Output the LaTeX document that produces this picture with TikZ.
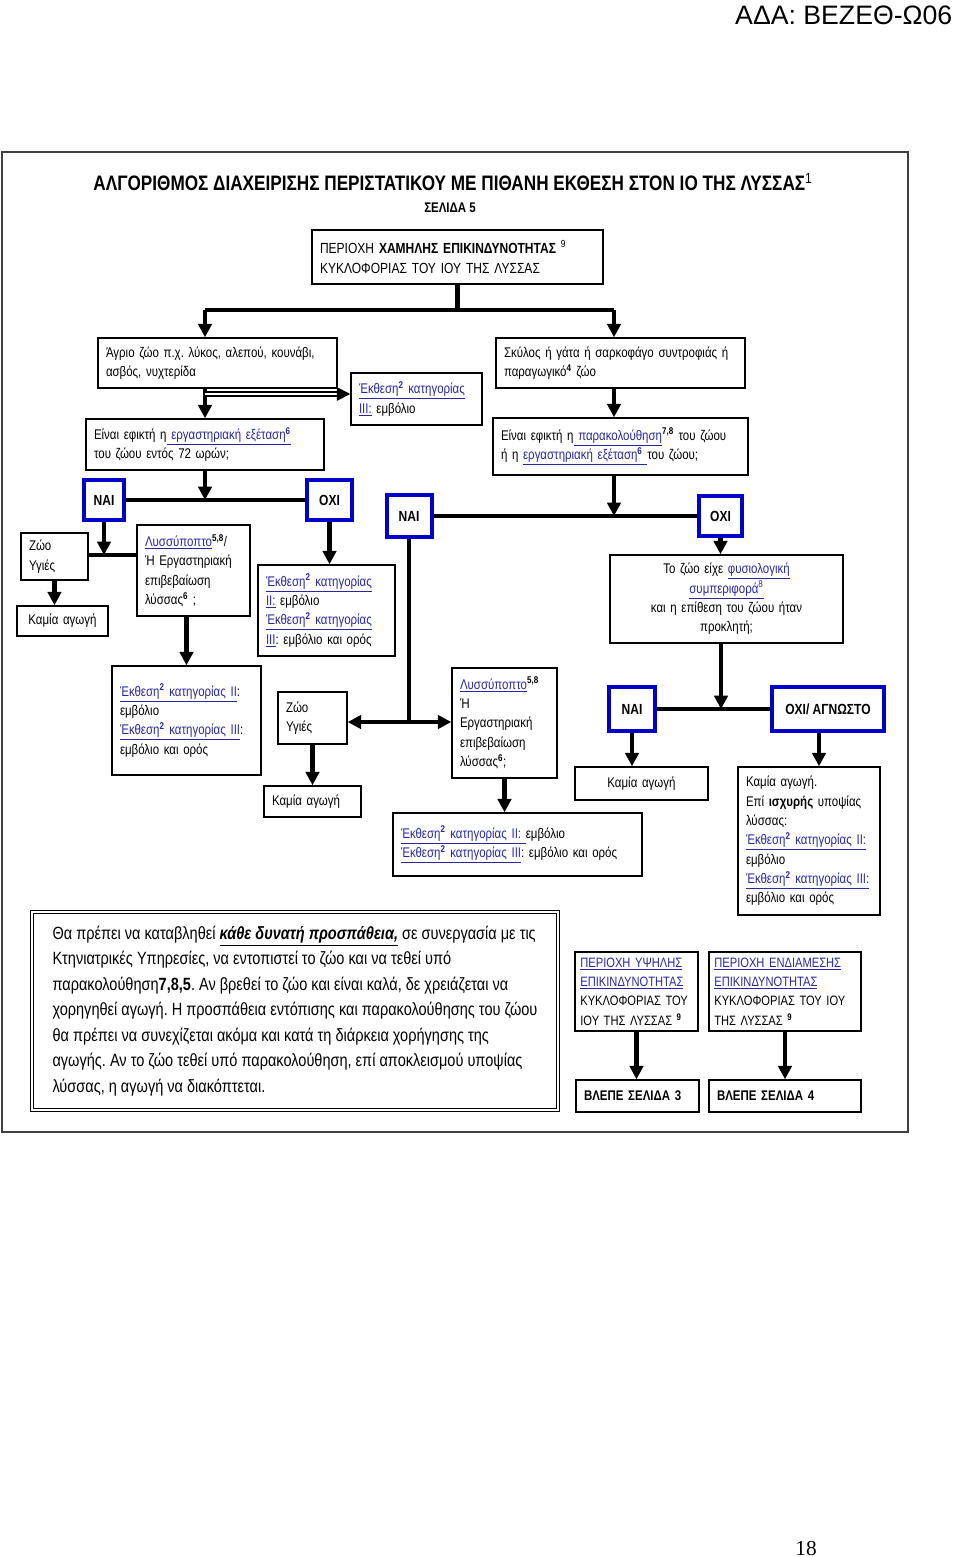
\documentclass[tikz,border=0pt]{standalone}
\usepackage{fontspec}
\usepackage{xcolor}
\usetikzlibrary{arrows.meta,positioning,calc}
\setmainfont{Liberation Sans}[FakeStretch=0.82]
\newfontfamily\hdrfont{Liberation Sans}
\newfontfamily\numfont{Liberation Serif}
\definecolor{lnkblue}{RGB}{40,40,160}
\definecolor{ansblue}{RGB}{0,0,200}
\newcommand{\lnk}[1]{\textcolor{lnkblue}{\underline{#1}}}
\newcommand{\sups}[1]{\textsuperscript{\bfseries #1}}
\frenchspacing

\begin{document}
\begin{tikzpicture}[x=0.75pt,y=-0.75pt,
  >={Triangle[width=10pt,length=10pt]},
  conn/.style={line width=3.5pt},
  dbl/.style={line width=1.3pt,double,double distance=1.6pt},
  bx/.style 2 args={draw,line width=1.1pt,minimum width=#1*0.75pt,minimum height=#2*0.75pt,
    text width=#1*0.75pt-12pt,inner xsep=6pt,inner ysep=1pt,align=left,
    font=\fontsize{10.5}{14.5}\selectfont},
  capbx/.style 2 args={bx={#1}{#2},text width=#1*0.75pt-8pt,inner xsep=4pt,
    font=\fontsize{10.2}{14.5}\selectfont},
  notebox/.style 2 args={draw,double,double distance=1.5pt,line width=0.9pt,
    minimum width=#1*0.75pt,minimum height=#2*0.75pt,align=left,
    font=\fontsize{13.3}{19.1}\selectfont},
  ans/.style 2 args={draw=ansblue,line width=3pt,minimum width=#1*0.75pt,minimum height=#2*0.75pt,
    inner sep=0pt,font=\bfseries\fontsize{11}{13}\selectfont}]
\useasboundingbox (0,0) rectangle (960,1557);
\draw[black!75,line width=2pt] (2,152) rectangle (908,1132);

\node[anchor=east,font=\hdrfont\fontsize{20}{22}\selectfont] (ada) at (957,15) {ΑΔΑ: ΒΕΖΕΘ-Ω06};
\node[font=\numfont\fontsize{16}{18}\selectfont] (pnum) at (806,1548) {18};
\node[font=\bfseries\fontsize{15.7}{18}\selectfont] (title) at (453,182) {ΑΛΓΟΡΙΘΜΟΣ ΔΙΑΧΕΙΡΙΣΗΣ ΠΕΡΙΣΤΑΤΙΚΟΥ ΜΕ ΠΙΘΑΝΗ ΕΚΘΕΣΗ ΣΤΟΝ ΙΟ ΤΗΣ ΛΥΣΣΑΣ{\mdseries\textsuperscript{1}}};
\node[font=\bfseries\fontsize{10.5}{12}\selectfont] (pg) at (450,208) {ΣΕΛΙΔΑ 5};

\node[bx={291}{54},font=\fontsize{11}{15}\selectfont] (area) at (457.5,257) {ΠΕΡΙΟΧΗ \textbf{ΧΑΜΗΛΗΣ ΕΠΙΚΙΝΔΥΝΟΤΗΤΑΣ} \textsuperscript{9}\\ΚΥΚΛΟΦΟΡΙΑΣ ΤΟΥ ΙΟΥ ΤΗΣ ΛΥΣΣΑΣ};
\node[bx={239}{50}] (wild) at (217.5,363) {Άγριο ζώο π.χ. λύκος, αλεπού, κουνάβι,\\ασβός, νυχτερίδα};
\node[bx={249}{50}] (pet) at (620.5,363) {Σκύλος ή γάτα ή σαρκοφάγο συντροφιάς ή\\παραγωγικό\sups{4} ζώο};
\node[bx={131}{52}] (cat3a) at (416.5,399) {\lnk{Έκθεση\sups{2} κατηγορίας}\\\lnk{III:} εμβόλιο};
\node[bx={238}{51}] (labwild) at (205,444.5) {Είναι εφικτή η\lnk{ εργαστηριακή εξέταση\sups{6}}\\του ζώου εντός 72 ωρών;};
\node[bx={255}{57}] (obswild) at (620.5,446.5) {Είναι εφικτή η\lnk{ παρακολούθηση}\sups{7,8} του ζώου\\ή η \lnk{εργαστηριακή εξέταση\sups{6} }του ζώου;};

\node[ans={40}{40}] (yes1) at (104,500) {ΝΑΙ};
\node[ans={45}{40}] (no1) at (329.5,500) {ΟΧΙ};
\node[ans={45}{42}] (yes2) at (409,516) {ΝΑΙ};
\node[ans={43}{40}] (no2) at (720.5,516) {ΟΧΙ};

\node[bx={67}{47}] (healthy1) at (54.5,556.5) {Ζώο\\Υγιές};
\node[bx={91}{30},align=center] (none1) at (62.5,621) {Καμία αγωγή};
\node[bx={113}{91}] (rabid1) at (193.5,570.5) {\lnk{Λυσσύποπτο}\sups{5,8}/\\Ή Εργαστηριακή\\επιβεβαίωση\\λύσσας\sups{6} ;};
\node[bx={137}{91}] (cat23a) at (326.5,610.5) {\lnk{Έκθεση\sups{2} κατηγορίας}\\\lnk{II:} εμβόλιο\\\lnk{Έκθεση\sups{2} κατηγορίας}\\\lnk{III}: εμβόλιο και ορός};
\node[bx={233}{88},align=center] (behav) at (726.5,599) {Το ζώο είχε \lnk{φυσιολογική}\\\lnk{συμπεριφορά\textsuperscript{8}}\\και η επίθεση του ζώου ήταν\\προκλητή;};

\node[bx={149}{109}] (cat23b) at (186.5,720.5) {\lnk{Έκθεση\sups{2} κατηγορίας II}:\\εμβόλιο\\\lnk{Έκθεση\sups{2} κατηγορίας III}:\\εμβόλιο και ορός};
\node[bx={69}{52}] (healthy2) at (312.5,718) {Ζώο\\Υγιές};
\node[bx={97}{31}] (none2) at (312.5,801.5) {Καμία αγωγή};
\node[bx={105}{110}] (rabid2) at (504.5,723) {\lnk{Λυσσύποπτο}\sups{5,8}\\Ή\\Εργαστηριακή\\επιβεβαίωση\\λύσσας\sups{6};};
\node[bx={249}{63}] (cat23c) at (517.5,844.5) {\lnk{Έκθεση\sups{2} κατηγορίας II: }εμβόλιο\\\lnk{Έκθεση\sups{2} κατηγορίας III}: εμβόλιο και ορός};
\node[ans={46}{44}] (yes3) at (632,709) {ΝΑΙ};
\node[ans={112}{44}] (no3) at (828,709) {ΟΧΙ/ ΑΓΝΩΣΤΟ};
\node[bx={133}{33},align=center] (none3) at (641.5,783.5) {Καμία αγωγή};
\node[bx={142}{148}] (strong) at (809,841) {Καμία αγωγή.\\Επί \textbf{ισχυρής} υποψίας\\λύσσας:\\\lnk{Έκθεση\sups{2} κατηγορίας II:}\\εμβόλιο\\\lnk{Έκθεση\sups{2} κατηγορίας III:}\\εμβόλιο και ορός};

\node[notebox={526}{198}] (note) at (295,1011) {Θα πρέπει να καταβληθεί \underline{\textbf{\textit{κάθε δυνατή προσπάθεια,}}} σε συνεργασία με τις\\Κτηνιατρικές Υπηρεσίες, να εντοπιστεί το ζώο και να τεθεί υπό\\παρακολούθηση\textbf{7,8,5}. Αν βρεθεί το ζώο και είναι καλά, δε χρειάζεται να\\χορηγηθεί αγωγή. Η προσπάθεια εντόπισης και παρακολούθησης του ζώου\\θα πρέπει να συνεχίζεται ακόμα και κατά τη διάρκεια χορήγησης της\\αγωγής. Αν το ζώο τεθεί υπό παρακολούθηση, επί αποκλεισμού υποψίας\\λύσσας, η αγωγή να διακόπτεται.};
\node[capbx={123}{79}] (high) at (636.5,991.5) {\lnk{ΠΕΡΙΟΧΗ ΥΨΗΛΗΣ}\\\lnk{ΕΠΙΚΙΝΔΥΝΟΤΗΤΑΣ}\\ΚΥΚΛΟΦΟΡΙΑΣ ΤΟΥ\\ΙΟΥ ΤΗΣ ΛΥΣΣΑΣ \sups{9}};
\node[capbx={152}{79}] (mid) at (785,991.5) {\lnk{ΠΕΡΙΟΧΗ ΕΝΔΙΑΜΕΣΗΣ}\\\lnk{ΕΠΙΚΙΝΔΥΝΟΤΗΤΑΣ}\\ΚΥΚΛΟΦΟΡΙΑΣ ΤΟΥ ΙΟΥ\\ΤΗΣ ΛΥΣΣΑΣ \sups{9}};
\node[bx={123}{32}] (page3) at (637.5,1096) {\textbf{ΒΛΕΠΕ ΣΕΛΙΔΑ 3}};
\node[bx={152}{32}] (page4) at (785,1096) {\textbf{ΒΛΕΠΕ ΣΕΛΙΔΑ 4}};

\coordinate (t0) at (457.5,310);
\coordinate (tl) at (205,310);
\coordinate (tr) at (614,310);
\coordinate (w3) at (205,394);
\coordinate (j1) at (205,500);
\coordinate (j2) at (104,555);
\coordinate (j3) at (614,516);
\coordinate (j4) at (409,722);
\coordinate (j5) at (721,709);

\draw[conn] (area.south) -- (t0);
\draw[conn] (tl) -- (tr);
\draw[conn,->] (tl) -- (tl |- wild.north);
\draw[conn,->] (tr) -- (tr |- pet.north);
\draw[conn,->] (labwild.north |- wild.south) -- (labwild.north);
\draw[dbl,->] (w3) -- (cat3a.west |- w3);
\draw[conn,->] (j3 |- pet.south) -- (j3 |- obswild.north);
\draw[conn,->] (labwild.south) -- (j1);
\draw[conn] (yes1.east) -- (no1.west);
\draw[conn,->] (yes1.south) -- (j2);
\draw[conn] (healthy1.east |- j2) -- (rabid1.west |- j2);
\draw[conn,->] (healthy1.south) -- (healthy1.south |- none1.north);
\draw[conn,->] (cat23b.north |- rabid1.south) -- (cat23b.north);
\draw[conn,->] (no1.south) -- (no1.south |- cat23a.north);
\draw[conn,->] (j3 |- obswild.south) -- (j3);
\draw[conn] (yes2.east) -- (no2.west);
\draw[conn,->] (no2.south) -- (no2.south |- behav.north);
\draw[conn] (yes2.south) -- (j4);
\draw[conn,<->] (healthy2.east |- j4) -- (rabid2.west |- j4);
\draw[conn,->] (healthy2.south) -- (none2.north);
\draw[conn,->] (rabid2.south) -- (rabid2.south |- cat23c.north);
\draw[conn,->] (j5 |- behav.south) -- (j5);
\draw[conn] (yes3.east) -- (no3.west);
\draw[conn,->] (yes3.south) -- (yes3.south |- none3.north);
\draw[conn,->] ([xshift=-6.75pt]no3.south) -- ([xshift=-6.75pt]no3.south |- strong.north);
\draw[conn,->] (high.south) -- (high.south |- page3.north);
\draw[conn,->] (mid.south) -- (mid.south |- page4.north);
\end{tikzpicture}
\end{document}
